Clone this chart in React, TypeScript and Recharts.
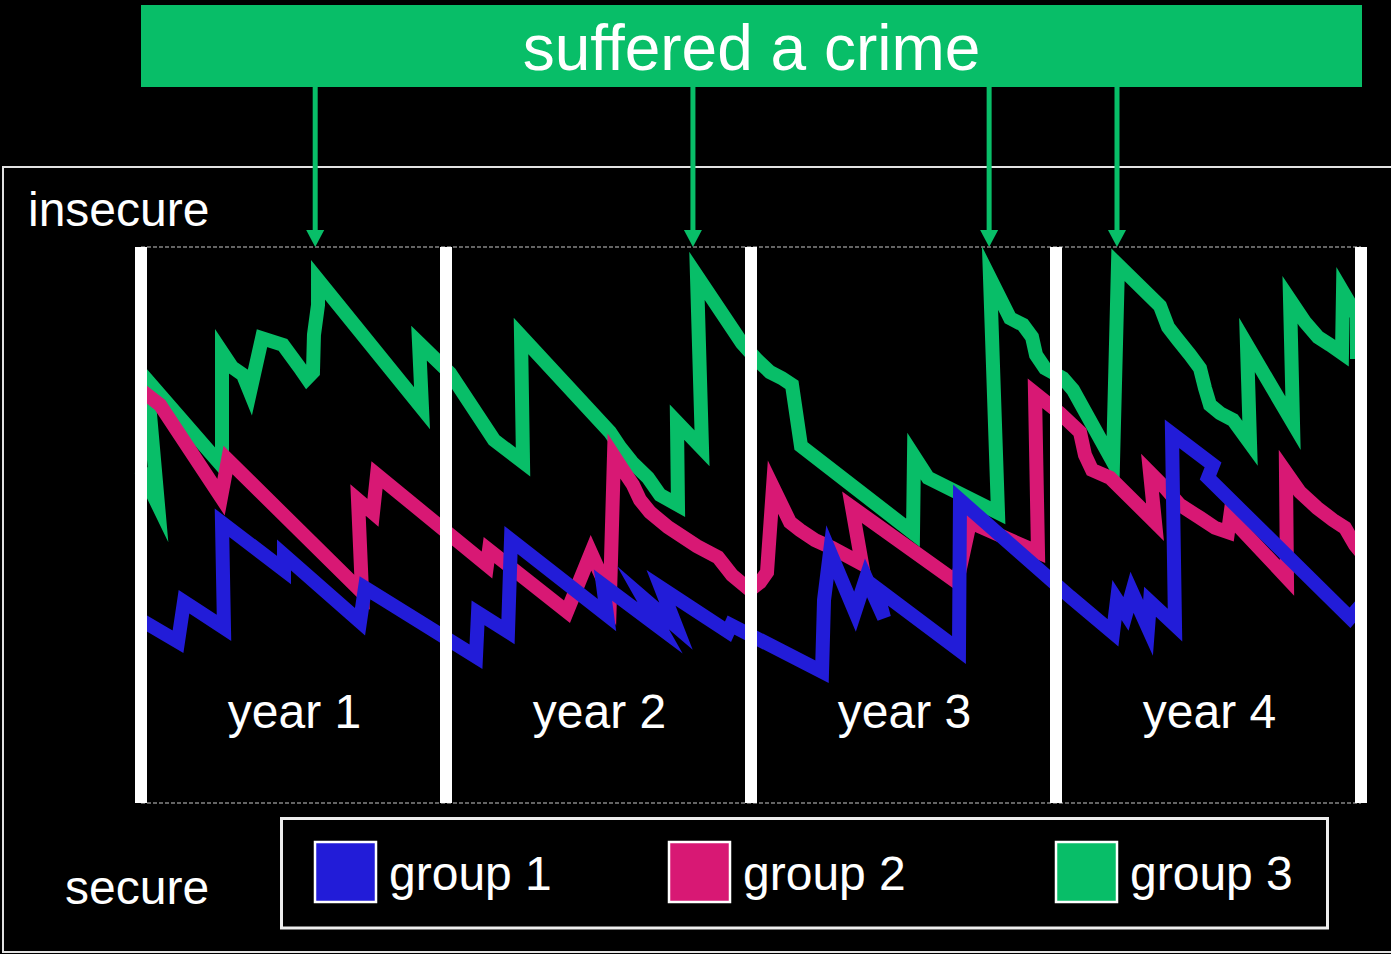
import React from 'react';
import { LineChart, Line, XAxis, YAxis, ReferenceLine } from 'recharts';

// time axis in weeks (4 years), security score 0 (secure) .. 100 (insecure)
const yearLabels = ['year 1', 'year 2', 'year 3', 'year 4'];
const yearBoundaries = [0, 52, 104, 156, 208];
const crimeWeeks = [29.7, 94.1, 144.6, 166.4];
const seriesNames = ['group 1', 'group 2', 'group 3'];
const seriesColors = ['#221CD8', '#D81874', '#08BE68'];
const title = 'suffered a crime';
const topLabel = 'insecure';
const bottomLabel = 'secure';

const group1: number[][] = [
  [0, 32.9], [6.31, 29.0], [7.33, 36.2], [14.15, 31.5], [13.81, 50.4], [24.38, 41.9], [24.38, 44.6],
  [37.34, 32.6], [38.19, 38.7], [57.11, 26.3], [57.46, 34.2], [62.57, 30.8], [63.08, 47.3],
  [79.45, 33.8], [78.77, 39.2], [88.49, 31.5], [85.59, 36.9], [91.21, 31.8], [88.66, 38.7],
  [100.08, 30.8], [100.59, 32.0], [116.11, 23.6], [116.45, 36.5], [117.47, 45.1],
  [121.73, 34.4], [123.61, 40.5], [126.68, 33.3], [125.31, 38.7], [139.46, 27.5], [139.63, 54.5],
  [158.39, 37.1], [165.72, 30.6], [166.4, 36.5], [167.93, 34.0], [168.96, 37.9], [171.69, 31.5],
  [172.03, 36.2], [176.29, 32.0], [175.78, 66.4], [182.77, 60.8], [181.91, 58.5], [206.12, 33.3],
  [208, 35.6],
];

const group2: number[][] = [
  [0, 74.3], [3.24, 71.6], [13.64, 55.0], [14.83, 61.7], [37.68, 37.9], [37.0, 54.5], [39.55, 52.2],
  [40.24, 59.0], [58.99, 42.8], [59.33, 45.5], [72.63, 34.4], [76.72, 45.0], [79.96, 37.4],
  [80.64, 62.4], [82.18, 59.9], [83.88, 57.2], [85.08, 54.5], [86.78, 52.3], [89.85, 49.6],
  [94.79, 46.2], [98.37, 44.2], [100.76, 41.0], [103.83, 38.3], [105.53, 39.7], [106.73, 41.5],
  [107.75, 56.8], [110.65, 50.5], [112.35, 49.1], [114.91, 47.3], [117.81, 45.9], [122.92, 43.0],
  [121.22, 53.2], [139.12, 39.7], [141.34, 50.5], [152.93, 45.1], [152.42, 73.7], [156.68, 70.1],
  [160.09, 66.7], [160.94, 62.6], [162.14, 59.9], [165.21, 58.5], [172.88, 50.5], [172.03, 59.4],
  [174.58, 56.7], [177.14, 53.6], [180.55, 51.3], [183.11, 49.5], [185.32, 48.7], [185.67, 51.4],
  [195.38, 40.5], [195.21, 59.5], [197.6, 55.9], [200.5, 53.1], [203.23, 50.9], [205.27, 49.5],
  [206.98, 46.4], [208, 45.1],
];

const group3: number[][] = [
  [0, 59.9], [2.9, 53.6], [1.02, 76.1], [13.81, 60.6], [13.81, 81.1], [15.51, 78.4], [17.39, 77.0],
  [18.58, 73.9], [20.63, 83.6], [24.21, 82.4], [27.11, 78.2], [28.3, 76.4], [29.32, 77.5],
  [29.49, 84.2], [30.18, 89.6], [30.18, 94.1], [47.91, 71.0], [47.4, 82.7], [52.68, 77.3],
  [60.18, 65.3], [65.13, 61.3], [64.79, 84.0], [79.96, 66.7], [81.67, 64.0], [83.71, 61.3],
  [86.44, 58.5], [88.49, 55.4], [91.55, 53.6], [91.38, 68.5], [95.65, 63.8], [94.79, 94.8],
  [102.47, 82.7], [105.02, 79.7], [107.24, 77.5], [109.29, 76.4], [110.99, 75.2], [112.52, 64.2],
  [131.62, 48.6], [131.79, 62.4], [134.18, 58.5], [146.11, 52.2], [144.75, 94.4], [148.16, 87.2],
  [150.37, 86.0], [151.91, 83.8], [152.59, 80.6], [154.12, 78.2], [157.19, 76.4], [158.9, 74.3],
  [165.72, 61.3], [166.57, 96.8], [173.73, 89.4], [175.1, 85.6], [176.8, 83.3], [178.85, 80.6],
  [180.55, 78.2], [181.4, 74.6], [182.26, 71.6], [183.96, 70.1], [186.18, 68.9], [189.08, 64.7],
  [188.56, 82.4], [196.41, 68.3], [195.9, 90.5], [198.45, 86.5], [200.67, 83.8], [202.71, 82.4],
  [204.76, 80.9], [204.93, 91.9], [207.32, 87.6], [207.32, 81.1], [208, 81.1],
];

const seriesData = [group1, group2, group3];

const FONT = '"Liberation Sans", Arial, Helvetica, sans-serif';
const W = 1391;
const H = 954;
const margin = { top: 247, right: 30, bottom: 151, left: 141 };
const W_MAX = 208;

const toPoints = (arr: number[][]) => arr.map(([w, s]) => ({ w, s }));

export default function App() {
  const plotW = W - margin.left - margin.right;
  const xOf = (w: number) => margin.left + (w / W_MAX) * plotW;
  const green = seriesColors[2];
  const drawOrder = [2, 1, 0];
  const legendX = [315, 669, 1056];

  return (
    <div
      style={{
        position: 'absolute',
        left: 0,
        top: 0,
        width: W,
        height: H,
        background: '#000',
        overflow: 'hidden',
        fontFamily: FONT,
      }}
    >
      <svg width={W} height={H} style={{ position: 'absolute', left: 0, top: 0 }}>
        <rect x={3} y={167} width={1400} height={785} fill="none" stroke="#e2e2e2" strokeWidth={2} />
      </svg>

      <div style={{ position: 'absolute', left: 0, top: 0 }}>
        <LineChart width={W} height={H} margin={margin}>
          <XAxis type="number" dataKey="w" domain={[0, W_MAX]} hide />
          <YAxis type="number" domain={[0, 100]} hide />
          <ReferenceLine y={100} stroke="#c8c8c8" strokeWidth={1} strokeDasharray="4 2" />
          <ReferenceLine y={0} stroke="#c8c8c8" strokeWidth={1} strokeDasharray="4 2" />
          {drawOrder.map((i) => (
            <Line
              key={seriesNames[i]}
              name={seriesNames[i]}
              data={toPoints(seriesData[i])}
              dataKey="s"
              type="linear"
              stroke={seriesColors[i]}
              strokeWidth={14}
              strokeLinejoin="miter"
              strokeMiterlimit={10}
              dot={false}
              activeDot={false}
              isAnimationActive={false}
            />
          ))}
          {yearBoundaries.map((b) => (
            <ReferenceLine key={'b' + b} x={b} stroke="#ffffff" strokeWidth={12} />
          ))}
        </LineChart>
      </div>

      <svg width={W} height={H} style={{ position: 'absolute', left: 0, top: 0, pointerEvents: 'none' }}>
        <rect x={141} y={5} width={1221} height={82} fill={green} />
        <text x={751.5} y={70} fill="#fff" fontSize={64} textAnchor="middle" fontFamily={FONT}>
          {title}
        </text>
        {crimeWeeks.map((cw) => {
          const x = xOf(cw);
          return (
            <g key={'c' + cw}>
              <line x1={x} y1={86} x2={x} y2={233} stroke={green} strokeWidth={5} />
              <polygon points={`${x - 9},230 ${x + 9},230 ${x},247`} fill={green} />
            </g>
          );
        })}
        <text x={28} y={226} fill="#fff" fontSize={48} fontFamily={FONT}>
          {topLabel}
        </text>
        <text x={65} y={904} fill="#fff" fontSize={48} fontFamily={FONT}>
          {bottomLabel}
        </text>
        {yearLabels.map((lab, i) => (
          <text
            key={lab}
            x={(xOf(yearBoundaries[i]) + xOf(yearBoundaries[i + 1])) / 2 + 1}
            y={728}
            fill="#fff"
            fontSize={48}
            textAnchor="middle"
            fontFamily={FONT}
          >
            {lab}
          </text>
        ))}
        <rect x={281.5} y={818.5} width={1046} height={109.5} fill="none" stroke="#eeeeee" strokeWidth={3} />
        {seriesNames.map((n, i) => (
          <g key={'lg' + n}>
            <rect x={legendX[i]} y={842} width={61} height={60} fill={seriesColors[i]} stroke="#fff" strokeWidth={2.5} />
            <text x={legendX[i] + 74} y={890} fill="#fff" fontSize={48} fontFamily={FONT}>
              {n}
            </text>
          </g>
        ))}
      </svg>
    </div>
  );
}
